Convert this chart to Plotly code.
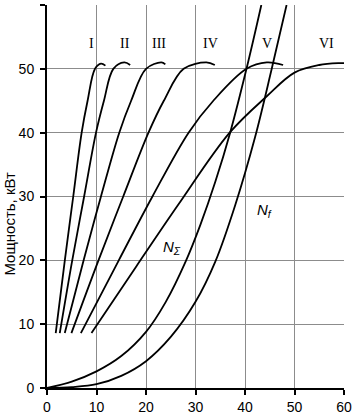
import plotly.graph_objects as go

# Gear power curves (speed km/h, power kW)
gear_I_x = [1.76, 3.6, 5.3, 7.0, 8.2, 9.7, 10.9, 11.8]
gear_I_y = [8.6, 20, 30, 40, 45, 50, 50.8, 50.5]
gear_II_x = [2.58, 5.1, 7.5, 9.9, 11.5, 13.4, 15.6, 16.8]
gear_II_y = [8.6, 20, 30, 40, 45, 50, 51.0, 50.6]
gear_III_x = [3.59, 7.4, 10.9, 14.6, 17.0, 20.0, 23.1, 23.9]
gear_III_y = [8.6, 20, 30, 40, 45, 50, 51.0, 50.7]
gear_IV_x = [4.93, 10.4, 15.4, 20.5, 23.6, 27.6, 32.2, 33.9]
gear_IV_y = [8.6, 20, 30, 40, 45, 50, 51.0, 50.6]
gear_V_x = [6.84, 14.5, 21.3, 28.6, 33.6, 40.3, 44.4, 47.7]
gear_V_y = [8.6, 20, 30, 40, 45, 50, 51.0, 50.6]
gear_VI_x = [8.99, 18.0, 26.5, 36.9, 44.4, 50.0, 55.0, 59.0, 60.0]
gear_VI_y = [8.6, 19.0, 28.7, 40, 45.7, 49.4, 50.6, 50.9, 50.9]

# Resistance power curves
n_sigma_x = [0, 5, 10, 15, 20, 24, 28, 31, 34, 37, 40.3, 43.3]
n_sigma_y = [0, 1.0, 2.6, 5.0, 8.8, 13.5, 19.8, 25.6, 32.3, 40, 50, 60]
n_f_x = [0, 5, 10, 15, 20, 25, 30, 34, 38, 42, 45.4, 48.4]
n_f_y = [0, 0.15, 0.6, 1.9, 4.2, 8.0, 13.5, 19.8, 28.6, 39.2, 50, 60]

gear_labels = ["I", "II", "III", "IV", "V", "VI"]
gear_label_x = [8.9, 15.8, 22.7, 33.0, 44.5, 56.4]
gear_label_y = 54

x_ticks = [0, 10, 20, 30, 40, 50, 60]
y_ticks = [0, 10, 20, 30, 40, 50, 60]

fig = go.Figure()
line_style = dict(color="black", width=1.8, shape="spline", smoothing=1.0)
for gx, gy in [(gear_I_x, gear_I_y), (gear_II_x, gear_II_y), (gear_III_x, gear_III_y),
               (gear_IV_x, gear_IV_y), (gear_V_x, gear_V_y), (gear_VI_x, gear_VI_y),
               (n_sigma_x, n_sigma_y), (n_f_x, n_f_y)]:
    fig.add_trace(go.Scatter(x=gx, y=gy, mode="lines", line=line_style,
                             hoverinfo="skip", showlegend=False))

for lab, lx in zip(gear_labels, gear_label_x):
    fig.add_annotation(x=lx, y=gear_label_y, text=lab, showarrow=False,
                       font=dict(family="Liberation Serif, Times New Roman, serif",
                                 size=14, color="black"))

fig.add_annotation(x=25.3, y=22, text="<i>N</i><sub><i>Σ</i></sub>", showarrow=False,
                   font=dict(family="Liberation Sans, Arial, sans-serif", size=15, color="black"))
fig.add_annotation(x=44.0, y=27.8, text="<i>N</i><sub><i>f</i></sub>", showarrow=False,
                   font=dict(family="Liberation Sans, Arial, sans-serif", size=15, color="black"))

# Y-axis title as a rotated annotation
fig.add_annotation(xref="paper", yref="paper", x=-0.127, y=0.43, text="Мощность, кВт",
                   textangle=-90, showarrow=False, xanchor="center", yanchor="middle",
                   font=dict(family="Liberation Sans, Arial, sans-serif", size=15, color="black"))

axis_common = dict(
    showgrid=True, gridcolor="#8c8c8c", gridwidth=1,
    showline=True, linecolor="black", linewidth=2,
    ticks="outside", ticklen=5, tickcolor="black", tickwidth=1.5,
    zeroline=False, automargin=False,
    tickfont=dict(family="Liberation Sans, Arial, sans-serif", size=14, color="black"),
)
fig.update_xaxes(range=[0, 60], tickvals=x_ticks, ticklabelstandoff=0, **axis_common)
fig.update_yaxes(range=[0, 60], tickvals=y_ticks, ticklabelstandoff=3, **axis_common)

fig.update_layout(
    width=353, height=416,
    margin=dict(l=47, r=9, t=5, b=28, autoexpand=False),
    plot_bgcolor="white", paper_bgcolor="white",
)

fig.write_html("out.html")
